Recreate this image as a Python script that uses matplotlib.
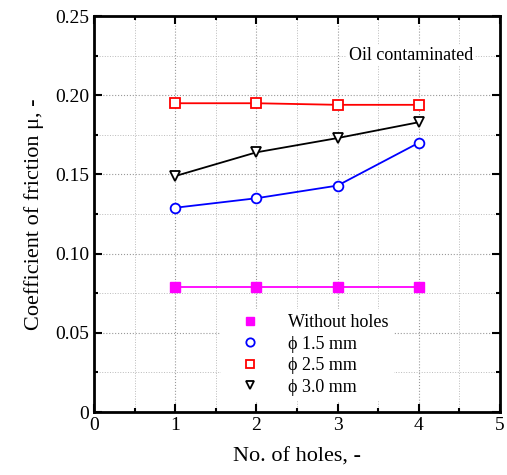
import matplotlib
matplotlib.use("Agg")
import matplotlib.pyplot as plt
from matplotlib.ticker import MultipleLocator

plt.rcParams['font.family'] = ['Liberation Serif', 'DejaVu Serif']

holes = [1, 2, 3, 4]
without_holes = [0.079, 0.079, 0.079, 0.079]
phi_15 = [0.129, 0.135, 0.143, 0.170]
phi_25 = [0.195, 0.195, 0.194, 0.194]
phi_30 = [0.149, 0.164, 0.173, 0.183]

fig = plt.figure(figsize=(5.07, 4.75), dpi=100)
ax = fig.add_axes([0.1854, 0.1326, 0.8006, 0.8334])

ax.plot(holes, without_holes, color='magenta', lw=1.3, marker='s', ms=7,
        mfc='magenta', mec='magenta', label='Without holes')
ax.plot(holes, phi_15, color='blue', lw=1.3, marker='o', ms=7,
        mfc='white', mec='blue', mew=1.3, label='\u03d5 1.5 mm')
ax.plot(holes, phi_25, color='red', lw=1.3, marker='s', ms=7,
        mfc='white', mec='red', mew=1.3, label='\u03d5 2.5 mm')
ax.plot(holes, phi_30, color='black', lw=1.3, marker='v', ms=7,
        mfc='white', mec='black', mew=1.3, label='\u03d5 3.0 mm')

ax.set_xlim(0, 5)
ax.set_ylim(0, 0.25)
ax.xaxis.set_major_locator(MultipleLocator(1))
ax.xaxis.set_minor_locator(MultipleLocator(0.5))
ax.set_yticks([0, 0.05, 0.10, 0.15, 0.20, 0.25])
ax.set_yticklabels(['0', '0.05', '0.10', '0.15', '0.20', '0.25'])
ax.yaxis.set_minor_locator(MultipleLocator(0.025))

ax.grid(which='major', ls=':', color='#999999', lw=0.8)
ax.grid(which='minor', ls=':', color='#bbbbbb', lw=0.7)
ax.set_axisbelow(True)

ax.tick_params(which='both', direction='in', top=True, right=True,
               labelsize=14, width=1.5)
ax.tick_params(which='major', length=6)
ax.tick_params(which='minor', length=3)
for s in ax.spines.values():
    s.set_linewidth(2)

ax.set_xlabel('No. of holes, -', fontsize=16, labelpad=10)
ax.set_ylabel('Coefficient of friction \u03bc, -', fontsize=16, labelpad=8)

ax.text(3.14, 0.2254, 'Oil contaminated', fontsize=13, va='center',
        bbox=dict(fc='white', ec='none', pad=1))

leg = ax.legend(loc='lower left', bbox_to_anchor=(0.29, 0.005),
                frameon=True, fontsize=13, handlelength=2.6,
                labelspacing=0.25, borderpad=0.3, handletextpad=0.85,
                fancybox=False, edgecolor='none', framealpha=1)
for line in leg.get_lines():
    line.set_linestyle('None')
    line.set_markersize(6)

fig.savefig('out.png', dpi=100)
